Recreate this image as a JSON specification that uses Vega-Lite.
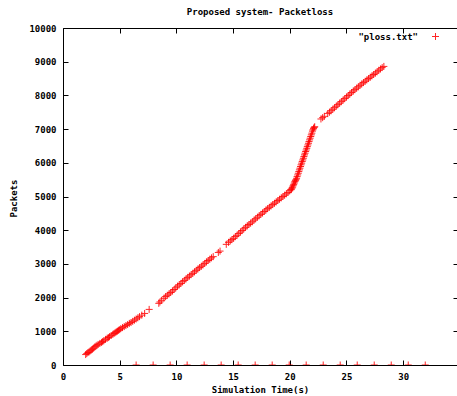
{
  "$schema": "https://vega.github.io/schema/vega-lite/v6.json",
  "autosize": "none",
  "width": 394,
  "height": 337,
  "padding": {"left": 63, "top": 28, "right": 0, "bottom": 31},
  "background": "white",
  "title": {"text": "Proposed system- Packetloss", "font": "DejaVu Sans Mono", "fontSize": 9, "fontWeight": "bold", "color": "#000", "offset": 7, "anchor": "middle"},
  "datasets": {
    "ploss": [
      {"t": 2.0, "p": 310, "s": "\"ploss.txt\""},
      {"t": 2.1, "p": 340, "s": "\"ploss.txt\""},
      {"t": 2.2, "p": 370, "s": "\"ploss.txt\""},
      {"t": 2.3, "p": 390, "s": "\"ploss.txt\""},
      {"t": 2.4, "p": 420, "s": "\"ploss.txt\""},
      {"t": 2.5, "p": 445, "s": "\"ploss.txt\""},
      {"t": 2.6, "p": 470, "s": "\"ploss.txt\""},
      {"t": 2.7, "p": 500, "s": "\"ploss.txt\""},
      {"t": 2.8, "p": 535, "s": "\"ploss.txt\""},
      {"t": 2.9, "p": 560, "s": "\"ploss.txt\""},
      {"t": 3.0, "p": 585, "s": "\"ploss.txt\""},
      {"t": 3.1, "p": 610, "s": "\"ploss.txt\""},
      {"t": 3.25, "p": 640, "s": "\"ploss.txt\""},
      {"t": 3.4, "p": 670, "s": "\"ploss.txt\""},
      {"t": 3.5, "p": 695, "s": "\"ploss.txt\""},
      {"t": 3.6, "p": 720, "s": "\"ploss.txt\""},
      {"t": 3.75, "p": 760, "s": "\"ploss.txt\""},
      {"t": 3.9, "p": 795, "s": "\"ploss.txt\""},
      {"t": 4.0, "p": 815, "s": "\"ploss.txt\""},
      {"t": 4.1, "p": 840, "s": "\"ploss.txt\""},
      {"t": 4.25, "p": 875, "s": "\"ploss.txt\""},
      {"t": 4.4, "p": 910, "s": "\"ploss.txt\""},
      {"t": 4.5, "p": 935, "s": "\"ploss.txt\""},
      {"t": 4.6, "p": 960, "s": "\"ploss.txt\""},
      {"t": 4.7, "p": 985, "s": "\"ploss.txt\""},
      {"t": 4.8, "p": 1005, "s": "\"ploss.txt\""},
      {"t": 4.9, "p": 1030, "s": "\"ploss.txt\""},
      {"t": 5.0, "p": 1050, "s": "\"ploss.txt\""},
      {"t": 5.1, "p": 1080, "s": "\"ploss.txt\""},
      {"t": 5.25, "p": 1110, "s": "\"ploss.txt\""},
      {"t": 5.4, "p": 1140, "s": "\"ploss.txt\""},
      {"t": 5.55, "p": 1170, "s": "\"ploss.txt\""},
      {"t": 5.7, "p": 1200, "s": "\"ploss.txt\""},
      {"t": 5.85, "p": 1235, "s": "\"ploss.txt\""},
      {"t": 6.0, "p": 1260, "s": "\"ploss.txt\""},
      {"t": 6.15, "p": 1295, "s": "\"ploss.txt\""},
      {"t": 6.3, "p": 1330, "s": "\"ploss.txt\""},
      {"t": 6.45, "p": 1365, "s": "\"ploss.txt\""},
      {"t": 6.6, "p": 1400, "s": "\"ploss.txt\""},
      {"t": 6.75, "p": 1435, "s": "\"ploss.txt\""},
      {"t": 6.95, "p": 1480, "s": "\"ploss.txt\""},
      {"t": 7.2, "p": 1530, "s": "\"ploss.txt\""},
      {"t": 7.6, "p": 1650, "s": "\"ploss.txt\""},
      {"t": 8.45, "p": 1830, "s": "\"ploss.txt\""},
      {"t": 8.55, "p": 1870, "s": "\"ploss.txt\""},
      {"t": 8.7, "p": 1920, "s": "\"ploss.txt\""},
      {"t": 8.9, "p": 1980, "s": "\"ploss.txt\""},
      {"t": 9.05, "p": 2030, "s": "\"ploss.txt\""},
      {"t": 9.2, "p": 2070, "s": "\"ploss.txt\""},
      {"t": 9.35, "p": 2110, "s": "\"ploss.txt\""},
      {"t": 9.5, "p": 2150, "s": "\"ploss.txt\""},
      {"t": 9.65, "p": 2195, "s": "\"ploss.txt\""},
      {"t": 9.8, "p": 2240, "s": "\"ploss.txt\""},
      {"t": 9.95, "p": 2290, "s": "\"ploss.txt\""},
      {"t": 10.1, "p": 2340, "s": "\"ploss.txt\""},
      {"t": 10.25, "p": 2380, "s": "\"ploss.txt\""},
      {"t": 10.4, "p": 2420, "s": "\"ploss.txt\""},
      {"t": 10.55, "p": 2470, "s": "\"ploss.txt\""},
      {"t": 10.7, "p": 2510, "s": "\"ploss.txt\""},
      {"t": 10.85, "p": 2555, "s": "\"ploss.txt\""},
      {"t": 11.0, "p": 2600, "s": "\"ploss.txt\""},
      {"t": 11.15, "p": 2640, "s": "\"ploss.txt\""},
      {"t": 11.3, "p": 2680, "s": "\"ploss.txt\""},
      {"t": 11.45, "p": 2720, "s": "\"ploss.txt\""},
      {"t": 11.6, "p": 2765, "s": "\"ploss.txt\""},
      {"t": 11.75, "p": 2810, "s": "\"ploss.txt\""},
      {"t": 11.9, "p": 2850, "s": "\"ploss.txt\""},
      {"t": 12.05, "p": 2890, "s": "\"ploss.txt\""},
      {"t": 12.2, "p": 2930, "s": "\"ploss.txt\""},
      {"t": 12.35, "p": 2970, "s": "\"ploss.txt\""},
      {"t": 12.5, "p": 3015, "s": "\"ploss.txt\""},
      {"t": 12.65, "p": 3060, "s": "\"ploss.txt\""},
      {"t": 12.8, "p": 3100, "s": "\"ploss.txt\""},
      {"t": 12.95, "p": 3140, "s": "\"ploss.txt\""},
      {"t": 13.1, "p": 3180, "s": "\"ploss.txt\""},
      {"t": 13.25, "p": 3215, "s": "\"ploss.txt\""},
      {"t": 13.7, "p": 3340, "s": "\"ploss.txt\""},
      {"t": 13.85, "p": 3380, "s": "\"ploss.txt\""},
      {"t": 14.4, "p": 3580, "s": "\"ploss.txt\""},
      {"t": 14.6, "p": 3640, "s": "\"ploss.txt\""},
      {"t": 14.75, "p": 3680, "s": "\"ploss.txt\""},
      {"t": 14.9, "p": 3720, "s": "\"ploss.txt\""},
      {"t": 15.05, "p": 3760, "s": "\"ploss.txt\""},
      {"t": 15.2, "p": 3810, "s": "\"ploss.txt\""},
      {"t": 15.35, "p": 3850, "s": "\"ploss.txt\""},
      {"t": 15.5, "p": 3900, "s": "\"ploss.txt\""},
      {"t": 15.65, "p": 3945, "s": "\"ploss.txt\""},
      {"t": 15.8, "p": 3990, "s": "\"ploss.txt\""},
      {"t": 15.95, "p": 4040, "s": "\"ploss.txt\""},
      {"t": 16.1, "p": 4085, "s": "\"ploss.txt\""},
      {"t": 16.25, "p": 4130, "s": "\"ploss.txt\""},
      {"t": 16.4, "p": 4170, "s": "\"ploss.txt\""},
      {"t": 16.55, "p": 4210, "s": "\"ploss.txt\""},
      {"t": 16.7, "p": 4250, "s": "\"ploss.txt\""},
      {"t": 16.85, "p": 4300, "s": "\"ploss.txt\""},
      {"t": 17.0, "p": 4340, "s": "\"ploss.txt\""},
      {"t": 17.15, "p": 4385, "s": "\"ploss.txt\""},
      {"t": 17.3, "p": 4430, "s": "\"ploss.txt\""},
      {"t": 17.45, "p": 4470, "s": "\"ploss.txt\""},
      {"t": 17.6, "p": 4510, "s": "\"ploss.txt\""},
      {"t": 17.75, "p": 4555, "s": "\"ploss.txt\""},
      {"t": 17.9, "p": 4600, "s": "\"ploss.txt\""},
      {"t": 18.05, "p": 4640, "s": "\"ploss.txt\""},
      {"t": 18.2, "p": 4680, "s": "\"ploss.txt\""},
      {"t": 18.35, "p": 4720, "s": "\"ploss.txt\""},
      {"t": 18.5, "p": 4760, "s": "\"ploss.txt\""},
      {"t": 18.65, "p": 4800, "s": "\"ploss.txt\""},
      {"t": 18.8, "p": 4840, "s": "\"ploss.txt\""},
      {"t": 18.95, "p": 4880, "s": "\"ploss.txt\""},
      {"t": 19.1, "p": 4920, "s": "\"ploss.txt\""},
      {"t": 19.25, "p": 4960, "s": "\"ploss.txt\""},
      {"t": 19.4, "p": 5000, "s": "\"ploss.txt\""},
      {"t": 19.55, "p": 5040, "s": "\"ploss.txt\""},
      {"t": 19.7, "p": 5080, "s": "\"ploss.txt\""},
      {"t": 19.85, "p": 5120, "s": "\"ploss.txt\""},
      {"t": 20.0, "p": 5170, "s": "\"ploss.txt\""},
      {"t": 20.1, "p": 5200, "s": "\"ploss.txt\""},
      {"t": 20.15, "p": 5220, "s": "\"ploss.txt\""},
      {"t": 20.2, "p": 5250, "s": "\"ploss.txt\""},
      {"t": 20.25, "p": 5280, "s": "\"ploss.txt\""},
      {"t": 20.3, "p": 5320, "s": "\"ploss.txt\""},
      {"t": 20.35, "p": 5360, "s": "\"ploss.txt\""},
      {"t": 20.4, "p": 5400, "s": "\"ploss.txt\""},
      {"t": 20.45, "p": 5440, "s": "\"ploss.txt\""},
      {"t": 20.5, "p": 5470, "s": "\"ploss.txt\""},
      {"t": 20.55, "p": 5500, "s": "\"ploss.txt\""},
      {"t": 20.6, "p": 5540, "s": "\"ploss.txt\""},
      {"t": 20.65, "p": 5590, "s": "\"ploss.txt\""},
      {"t": 20.7, "p": 5640, "s": "\"ploss.txt\""},
      {"t": 20.75, "p": 5690, "s": "\"ploss.txt\""},
      {"t": 20.8, "p": 5740, "s": "\"ploss.txt\""},
      {"t": 20.85, "p": 5790, "s": "\"ploss.txt\""},
      {"t": 20.9, "p": 5840, "s": "\"ploss.txt\""},
      {"t": 20.95, "p": 5890, "s": "\"ploss.txt\""},
      {"t": 21.0, "p": 5940, "s": "\"ploss.txt\""},
      {"t": 21.05, "p": 5990, "s": "\"ploss.txt\""},
      {"t": 21.1, "p": 6040, "s": "\"ploss.txt\""},
      {"t": 21.15, "p": 6085, "s": "\"ploss.txt\""},
      {"t": 21.2, "p": 6135, "s": "\"ploss.txt\""},
      {"t": 21.25, "p": 6185, "s": "\"ploss.txt\""},
      {"t": 21.3, "p": 6235, "s": "\"ploss.txt\""},
      {"t": 21.35, "p": 6285, "s": "\"ploss.txt\""},
      {"t": 21.4, "p": 6335, "s": "\"ploss.txt\""},
      {"t": 21.45, "p": 6380, "s": "\"ploss.txt\""},
      {"t": 21.5, "p": 6430, "s": "\"ploss.txt\""},
      {"t": 21.55, "p": 6480, "s": "\"ploss.txt\""},
      {"t": 21.6, "p": 6530, "s": "\"ploss.txt\""},
      {"t": 21.65, "p": 6580, "s": "\"ploss.txt\""},
      {"t": 21.7, "p": 6630, "s": "\"ploss.txt\""},
      {"t": 21.75, "p": 6680, "s": "\"ploss.txt\""},
      {"t": 21.8, "p": 6730, "s": "\"ploss.txt\""},
      {"t": 21.85, "p": 6780, "s": "\"ploss.txt\""},
      {"t": 21.9, "p": 6830, "s": "\"ploss.txt\""},
      {"t": 21.95, "p": 6880, "s": "\"ploss.txt\""},
      {"t": 22.0, "p": 6940, "s": "\"ploss.txt\""},
      {"t": 22.05, "p": 6980, "s": "\"ploss.txt\""},
      {"t": 22.1, "p": 7020, "s": "\"ploss.txt\""},
      {"t": 22.15, "p": 7050, "s": "\"ploss.txt\""},
      {"t": 22.2, "p": 7070, "s": "\"ploss.txt\""},
      {"t": 22.75, "p": 7300, "s": "\"ploss.txt\""},
      {"t": 22.9, "p": 7340, "s": "\"ploss.txt\""},
      {"t": 23.05, "p": 7380, "s": "\"ploss.txt\""},
      {"t": 23.35, "p": 7460, "s": "\"ploss.txt\""},
      {"t": 23.5, "p": 7500, "s": "\"ploss.txt\""},
      {"t": 23.65, "p": 7545, "s": "\"ploss.txt\""},
      {"t": 23.8, "p": 7590, "s": "\"ploss.txt\""},
      {"t": 23.95, "p": 7635, "s": "\"ploss.txt\""},
      {"t": 24.1, "p": 7680, "s": "\"ploss.txt\""},
      {"t": 24.25, "p": 7725, "s": "\"ploss.txt\""},
      {"t": 24.4, "p": 7770, "s": "\"ploss.txt\""},
      {"t": 24.55, "p": 7815, "s": "\"ploss.txt\""},
      {"t": 24.7, "p": 7860, "s": "\"ploss.txt\""},
      {"t": 24.85, "p": 7905, "s": "\"ploss.txt\""},
      {"t": 25.0, "p": 7950, "s": "\"ploss.txt\""},
      {"t": 25.15, "p": 7995, "s": "\"ploss.txt\""},
      {"t": 25.3, "p": 8040, "s": "\"ploss.txt\""},
      {"t": 25.45, "p": 8085, "s": "\"ploss.txt\""},
      {"t": 25.6, "p": 8130, "s": "\"ploss.txt\""},
      {"t": 25.75, "p": 8170, "s": "\"ploss.txt\""},
      {"t": 25.9, "p": 8215, "s": "\"ploss.txt\""},
      {"t": 26.05, "p": 8255, "s": "\"ploss.txt\""},
      {"t": 26.2, "p": 8300, "s": "\"ploss.txt\""},
      {"t": 26.35, "p": 8340, "s": "\"ploss.txt\""},
      {"t": 26.5, "p": 8380, "s": "\"ploss.txt\""},
      {"t": 26.65, "p": 8420, "s": "\"ploss.txt\""},
      {"t": 26.8, "p": 8460, "s": "\"ploss.txt\""},
      {"t": 26.95, "p": 8500, "s": "\"ploss.txt\""},
      {"t": 27.1, "p": 8540, "s": "\"ploss.txt\""},
      {"t": 27.25, "p": 8580, "s": "\"ploss.txt\""},
      {"t": 27.4, "p": 8620, "s": "\"ploss.txt\""},
      {"t": 27.55, "p": 8660, "s": "\"ploss.txt\""},
      {"t": 27.7, "p": 8700, "s": "\"ploss.txt\""},
      {"t": 27.85, "p": 8745, "s": "\"ploss.txt\""},
      {"t": 28.0, "p": 8785, "s": "\"ploss.txt\""},
      {"t": 28.15, "p": 8825, "s": "\"ploss.txt\""},
      {"t": 28.3, "p": 8860, "s": "\"ploss.txt\""},
      {"t": 6.45, "p": 0, "s": "\"ploss.txt\""},
      {"t": 7.95, "p": 0, "s": "\"ploss.txt\""},
      {"t": 9.45, "p": 0, "s": "\"ploss.txt\""},
      {"t": 10.95, "p": 0, "s": "\"ploss.txt\""},
      {"t": 12.45, "p": 0, "s": "\"ploss.txt\""},
      {"t": 13.95, "p": 0, "s": "\"ploss.txt\""},
      {"t": 15.45, "p": 0, "s": "\"ploss.txt\""},
      {"t": 16.95, "p": 0, "s": "\"ploss.txt\""},
      {"t": 18.45, "p": 0, "s": "\"ploss.txt\""},
      {"t": 19.95, "p": 0, "s": "\"ploss.txt\""},
      {"t": 21.45, "p": 0, "s": "\"ploss.txt\""},
      {"t": 22.95, "p": 0, "s": "\"ploss.txt\""},
      {"t": 24.45, "p": 0, "s": "\"ploss.txt\""},
      {"t": 25.95, "p": 0, "s": "\"ploss.txt\""},
      {"t": 27.45, "p": 0, "s": "\"ploss.txt\""},
      {"t": 28.95, "p": 0, "s": "\"ploss.txt\""},
      {"t": 30.45, "p": 0, "s": "\"ploss.txt\""},
      {"t": 31.95, "p": 0, "s": "\"ploss.txt\""}
    ]
  },
  "data": {"name": "ploss"},
  "layer": [
    {
      "mark": {"type": "point", "shape": "M-1,0H1M0,-1V1", "filled": false, "size": 49, "strokeWidth": 1, "opacity": 0.85, "clip": true},
      "encoding": {
        "x": {"field": "t", "type": "quantitative", "scale": {"domain": [0, 34.75], "nice": false, "zero": false},
              "axis": {"title": "Simulation Time(s)", "values": [0, 5, 10, 15, 20, 25, 30], "tickSize": -5, "labelPadding": 12, "labelFlush": false, "titleX": 197, "titleY": 24, "titleBaseline": "middle", "titleAnchor": null}},
        "y": {"field": "p", "type": "quantitative", "scale": {"domain": [0, 10000], "nice": false},
              "axis": {"title": "Packets", "values": [0, 1000, 2000, 3000, 4000, 5000, 6000, 7000, 8000, 9000, 10000], "format": "d", "tickSize": -5, "labelPadding": 12, "labelFlush": false, "titleX": -50, "titleY": 170, "titleBaseline": "middle", "titleAngle": -90}},
        "color": {"field": "s", "type": "nominal", "scale": {"range": ["#ff0000"]},
                  "legend": {"title": null, "orient": "none", "legendX": 368, "legendY": 4, "labelAlign": "right", "labelOffset": -22, "symbolType": "M-1,0H1M0,-1V1", "symbolSize": 49, "symbolStrokeWidth": 1, "labelFont": "DejaVu Sans Mono", "labelFontSize": 9, "labelFontWeight": "bold", "labelColor": "#000"}}
      }
    },
    {
      "mark": {"type": "point", "opacity": 0},
      "encoding": {
        "x": {"field": "t", "type": "quantitative", "axis": {"orient": "top", "title": null, "labels": false, "values": [0, 5, 10, 15, 20, 25, 30], "tickSize": -5}},
        "y": {"field": "p", "type": "quantitative", "axis": {"orient": "right", "title": null, "labels": false, "domain": false, "values": [0, 1000, 2000, 3000, 4000, 5000, 6000, 7000, 8000, 9000, 10000], "tickSize": -4}}
      }
    }
  ],
  "resolve": {"axis": {"x": "independent", "y": "independent"}},
  "config": {
    "view": {"stroke": null},
    "axis": {"grid": false, "domainColor": "#000", "domainWidth": 1, "tickColor": "#000", "tickWidth": 1, "labelFont": "DejaVu Sans Mono", "labelFontSize": 9, "labelFontWeight": "bold", "labelColor": "#000", "titleFont": "DejaVu Sans Mono", "titleFontSize": 9, "titleFontWeight": "bold", "titleColor": "#000", "labelOverlap": false}
  }
}
